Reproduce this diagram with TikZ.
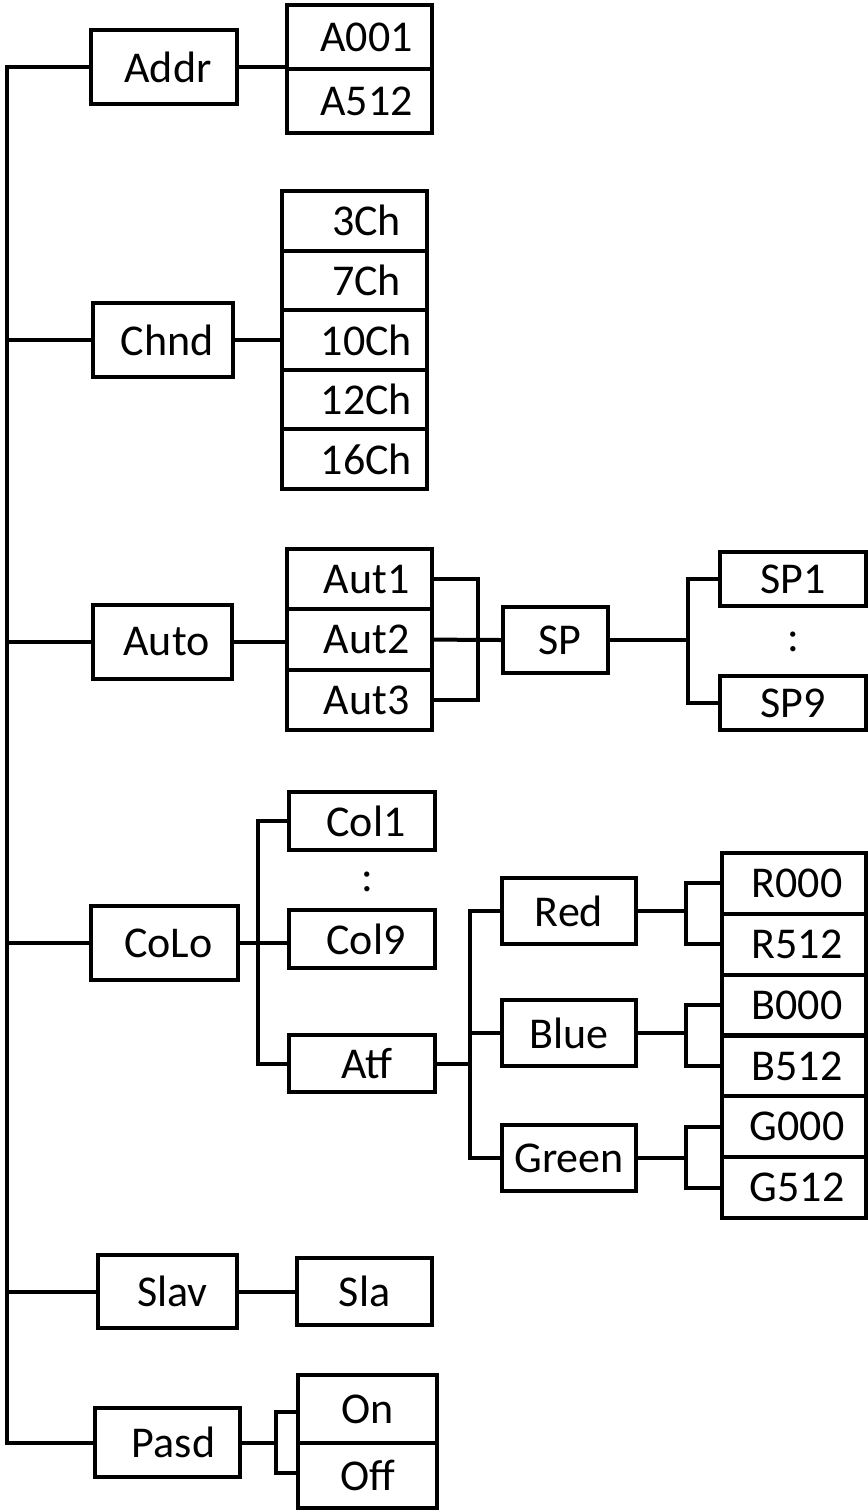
\documentclass[tikz,border=0pt]{standalone}
\usepackage{fontspec}
\setmainfont{Carlito}
\usetikzlibrary{calc}

\begin{document}
\begin{tikzpicture}[x=0.5pt, y=-0.5pt,
    box/.style={draw, line width=2pt, inner sep=0pt, font=\fontsize{22}{26}\selectfont},
    nudge/.style={execute at begin node={\hspace*{#1}}},
    menu/.style={box, minimum width=71pt, minimum height=37pt, nudge=4pt},
    item/.style={box, minimum width=72.5pt, minimum height=30pt},
    sub/.style={box, minimum width=67pt, minimum height=33pt},
    dots/.style={font=\fontsize{22}{26}\selectfont, inner sep=0pt},
    link/.style={line width=2pt}]

    \useasboundingbox (0,0) rectangle (868,1511);

    % main menu column
    \node[menu, minimum width=73pt] (addr) at (164,67) {Addr};
    \node[menu, minimum width=70pt] (chnd) at (163,340) {Chnd};
    \node[menu, minimum width=69.5pt] (auto) at (162.5,642) {Auto};
    \node[menu, minimum width=73.5pt] (colo) at (164.5,943) {CoLo};
    \node[menu, minimum width=69.5pt, minimum height=36.5pt, nudge=1pt] (slav) at (167.5,1291.5) {Slav};
    \node[menu, minimum width=72.5pt, minimum height=34.5pt, nudge=2pt] (pasd) at (167.5,1442.5) {Pasd};

    % trunk
    \coordinate (trunk) at (7,0);
    \draw[link] (addr.west) -| (trunk |- pasd.west) -- (pasd.west);
    \foreach \m in {chnd,auto,colo,slav}
        \draw[link] (\m.west) -- (\m.west -| trunk);

    % Addr
    \node[item, minimum height=32pt, nudge=7pt] (a001) at (359.5,37) {A001};
    \node[item, minimum height=32pt, nudge=7pt] (a512) at (359.5,101) {A512};
    \draw[link] (addr.east) -- (addr.east -| a001.west);

    % Chnd
    \foreach \t [count=\i] in {3Ch,7Ch,10Ch,12Ch,16Ch}
        \node[item, minimum height=29.8pt, nudge=12pt] (ch\i) at (354.5,{191+59.6*(\i-0.5)}) {\t};
    \draw[link] (chnd.east) -- (chnd.east -| ch3.west);

    % Auto
    \foreach \t [count=\i] in {Aut1,Aut2,Aut3}
        \node[item, minimum height=30.2pt, nudge=7pt] (aut\i) at (359.5,{549+60.4*(\i-0.5)}) {\t};
    \draw[link] (auto.east) -- (auto.east -| aut2.west);
    \node[sub, minimum width=52.5pt, nudge=4pt] (sp) at (555.5,640) {SP};
    \coordinate (autj) at (478,0);
    \draw[link] (aut1.east) -| (autj |- aut3.east) -- (aut3.east);
    \draw[link] (aut2.east) -- (sp.west);

    \node[item, minimum width=73pt, minimum height=27pt] (sp1) at (793,579) {SP1};
    \node[dots] (spdots) at (793,642) {:};
    \node[item, minimum width=73pt, minimum height=27pt] (sp9) at (793,703) {SP9};
    \coordinate (spj) at (688,0);
    \draw[link] (sp1.west) -| (spj |- sp9.west) -- (sp9.west);
    \draw[link] (sp.east) -- (sp.east -| spj);

    % CoLo
    \node[item, minimum width=73pt, minimum height=29pt, nudge=4pt] (col1) at (362,821) {Col1};
    \node[dots] (coldots) at (367,882) {:};
    \node[item, minimum width=73pt, minimum height=29pt, nudge=4pt] (col9) at (362,939) {Col9};
    \node[item, minimum width=73pt, minimum height=28.5pt, nudge=5pt] (atf) at (362,1063.5) {Atf};
    \coordinate (colj) at (258,0);
    \draw[link] (col1.west) -| (colj |- atf.west) -- (atf.west);
    \draw[link] (colo.east) -- (colo.east -| col9.west);

    \node[sub] (red) at (569,911) {Red};
    \node[sub] (blue) at (569,1033) {Blue};
    \node[sub] (green) at (569,1158) {Green};
    \coordinate (atfj) at (470,0);
    \draw[link] (red.west) -| (atfj |- green.west) -- (green.west);
    \draw[link] (blue.west) -- (blue.west -| atfj);
    \draw[link] (atf.east) -- (atf.east -| atfj);

    \foreach \t [count=\i] in {R000,R512,B000,B512,G000,G512}
        \node[item, minimum width=72pt, minimum height=30.4pt, nudge=3pt] (rgb\i) at (794,{853+60.83*(\i-0.5)}) {\t};
    \coordinate (rgbj) at (686,0);
    \foreach \c/\a/\b in {red/1/2, blue/3/4, green/5/6} {
        \draw[link] (rgb\a.west) -| (rgbj |- rgb\b.west) -- (rgb\b.west);
        \draw[link] (\c.east) -- (\c.east -| rgbj);
    }

    % Slav
    \node[item, minimum width=67.5pt, minimum height=33.5pt] (sla) at (364.5,1291.5) {Sla};
    \draw[link] (slav.east) -- (slav.east -| sla.west);

    % Pasd
    \node[item, minimum width=69.5pt, minimum height=34pt] (on) at (367.5,1409) {On};
    \node[item, minimum width=69.5pt, minimum height=32.5pt] (off) at (367.5,1475.5) {Off};
    \coordinate (ontop) at ($(on.west)+(0,3)$);
    \coordinate (offlow) at ($(off.west)+(0,-3)$);
    \coordinate (pasdj) at (276,0);
    \draw[link] (ontop) -| (pasdj |- offlow) -- (offlow);
    \draw[link] (pasd.east) -- (pasd.east -| pasdj);

\end{tikzpicture}
\end{document}
